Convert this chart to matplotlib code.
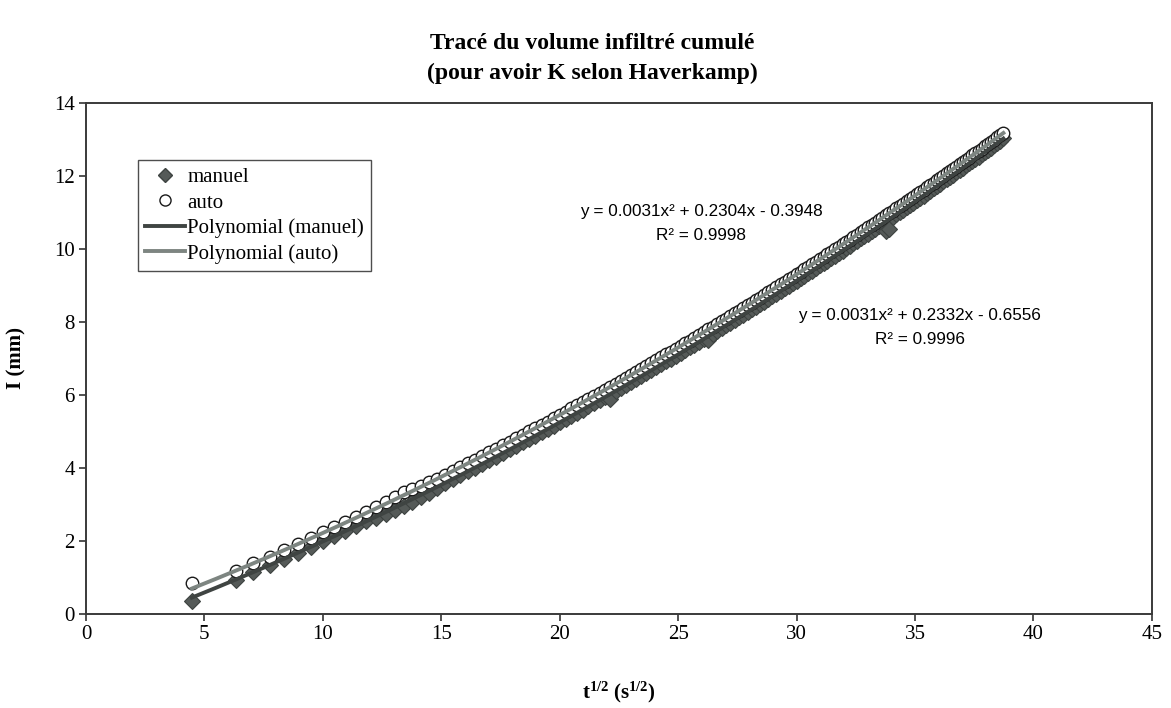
import matplotlib
matplotlib.use("Agg")
import matplotlib.pyplot as plt
from matplotlib.lines import Line2D
import numpy as np

# ---- data: x = t^(1/2) (s^(1/2)), I (mm) ----
x_vals = [4.47, 6.32, 7.07, 7.75, 8.37, 8.94, 9.49, 10.00, 10.49, 10.95,
          11.40, 11.83, 12.25, 12.65, 13.04, 13.42, 13.78, 14.14, 14.49, 14.83,
          15.17, 15.49, 15.81, 16.12, 16.43, 16.73, 17.03, 17.32, 17.61, 17.89,
          18.17, 18.44, 18.71, 18.97, 19.24, 19.49, 19.75, 20.00, 20.25, 20.49,
          20.74, 20.98, 21.21, 21.45, 21.68, 21.91, 22.14, 22.36, 22.58, 22.80,
          23.02, 23.24, 23.45, 23.66, 23.87, 24.08, 24.29, 24.49, 24.70, 24.90,
          25.10, 25.30, 25.50, 25.69, 25.88, 26.08, 26.27, 26.46, 26.65, 26.83,
          27.02, 27.20, 27.39, 27.57, 27.75, 27.93, 28.11, 28.28, 28.46, 28.64,
          28.81, 28.98, 29.15, 29.33, 29.50, 29.66, 29.83, 30.00, 30.17, 30.33,
          30.50, 30.66, 30.82, 30.98, 31.14, 31.30, 31.46, 31.62, 31.78, 31.94,
          32.09, 32.25, 32.40, 32.56, 32.71, 32.86, 33.02, 33.17, 33.32, 33.47,
          33.62, 33.76, 33.91, 34.06, 34.21, 34.35, 34.50, 34.64, 34.79, 34.93,
          35.07, 35.21, 35.36, 35.50, 35.64, 35.78, 35.92, 36.06, 36.19, 36.33,
          36.47, 36.61, 36.74, 36.88, 37.01, 37.15, 37.28, 37.42, 37.55, 37.68,
          37.82, 37.95, 38.08, 38.21, 38.34, 38.47, 38.60, 38.73]

auto_vals = [0.86, 1.17, 1.40, 1.57, 1.76, 1.93, 2.09, 2.24, 2.38, 2.52,
             2.66, 2.79, 2.93, 3.08, 3.20, 3.33, 3.42, 3.52, 3.61, 3.71,
             3.82, 3.93, 4.03, 4.13, 4.23, 4.33, 4.43, 4.53, 4.62, 4.72,
             4.81, 4.91, 5.00, 5.09, 5.18, 5.27, 5.36, 5.45, 5.54, 5.63,
             5.72, 5.80, 5.89, 5.97, 6.06, 6.14, 6.22, 6.31, 6.39, 6.47,
             6.55, 6.63, 6.71, 6.79, 6.87, 6.95, 7.03, 7.11, 7.19, 7.26,
             7.34, 7.42, 7.49, 7.57, 7.65, 7.72, 7.80, 7.87, 7.95, 8.02,
             8.09, 8.17, 8.24, 8.31, 8.39, 8.46, 8.53, 8.60, 8.67, 8.75,
             8.82, 8.89, 8.96, 9.03, 9.10, 9.17, 9.24, 9.31, 9.38, 9.45,
             9.51, 9.58, 9.65, 9.72, 9.79, 9.86, 9.92, 9.99, 10.06, 10.13,
             10.19, 10.26, 10.33, 10.39, 10.46, 10.53, 10.59, 10.66, 10.72, 10.79,
             10.85, 10.92, 10.98, 11.05, 11.11, 11.18, 11.24, 11.31, 11.37, 11.43,
             11.50, 11.56, 11.63, 11.69, 11.75, 11.82, 11.88, 11.94, 12.01, 12.07,
             12.13, 12.19, 12.26, 12.32, 12.38, 12.44, 12.50, 12.57, 12.63, 12.69,
             12.75, 12.81, 12.87, 12.94, 13.00, 13.06, 13.12, 13.18]

manuel_vals = [0.36, 0.93, 1.15, 1.34, 1.51, 1.68, 1.84, 1.99, 2.13, 2.27,
               2.41, 2.54, 2.62, 2.74, 2.86, 2.97, 3.08, 3.20, 3.32, 3.45,
               3.59, 3.70, 3.81, 3.91, 4.01, 4.11, 4.22, 4.31, 4.41, 4.51,
               4.60, 4.70, 4.79, 4.89, 4.98, 5.07, 5.16, 5.25, 5.34, 5.43,
               5.51, 5.60, 5.69, 5.77, 5.86, 5.94, 5.90, 6.11, 6.19, 6.27,
               6.36, 6.44, 6.52, 6.60, 6.68, 6.76, 6.84, 6.92, 6.99, 7.07,
               7.15, 7.23, 7.31, 7.38, 7.46, 7.53, 7.52, 7.68, 7.76, 7.83,
               7.91, 7.98, 8.06, 8.13, 8.20, 8.28, 8.35, 8.42, 8.49, 8.56,
               8.64, 8.71, 8.78, 8.85, 8.92, 8.99, 9.06, 9.13, 9.20, 9.27,
               9.34, 9.41, 9.48, 9.55, 9.62, 9.68, 9.75, 9.82, 9.89, 9.95,
               10.02, 10.09, 10.16, 10.22, 10.29, 10.36, 10.42, 10.49, 10.55, 10.62,
               10.69, 10.48, 10.55, 10.88, 10.95, 11.01, 11.08, 11.14, 11.21, 11.27,
               11.34, 11.40, 11.46, 11.53, 11.59, 11.66, 11.72, 11.78, 11.85, 11.91,
               11.97, 12.04, 12.10, 12.16, 12.22, 12.29, 12.35, 12.41, 12.47, 12.53,
               12.60, 12.66, 12.72, 12.78, 12.84, 12.90, 12.97, 13.03]

# trendline coefficients (as printed on chart)
coef_auto = [0.0031, 0.2304, -0.3948]
coef_manuel = [0.0031, 0.2332, -0.6556]
eq_auto = ["y = 0.0031x\u00b2 + 0.2304x - 0.3948", "R\u00b2 = 0.9998"]
eq_manuel = ["y = 0.0031x\u00b2 + 0.2332x - 0.6556", "R\u00b2 = 0.9996"]

x_ticks = [0, 5, 10, 15, 20, 25, 30, 35, 40, 45]
y_ticks = [0, 2, 4, 6, 8, 10, 12, 14]

plt.rcParams['mathtext.fontset'] = 'custom'
plt.rcParams['mathtext.rm'] = 'Liberation Serif'
plt.rcParams['mathtext.bf'] = 'Liberation Serif:bold'
plt.rcParams['mathtext.it'] = 'Liberation Serif:italic'

serif = 'Liberation Serif'
sans = 'Liberation Sans'

fig = plt.figure(figsize=(11.71, 7.08), dpi=100)
ax = fig.add_axes([0.0734, 0.1328, 0.9103, 0.7217])

x = np.array(x_vals)
ax.plot(x, manuel_vals, linestyle='none', marker='D', ms=8,
        mfc='#555a58', mec='#3e4341', mew=0.8, zorder=2)
ax.plot(x, auto_vals, linestyle='none', marker='o', ms=9,
        mfc='white', mec='#1a1a1a', mew=1.0, zorder=3)

xf = np.linspace(x.min(), x.max(), 300)
ax.plot(xf, np.polyval(coef_manuel, xf), color='#3f4442', lw=2.8, zorder=4)
ax.plot(xf, np.polyval(coef_auto, xf), color='#7d8581', lw=2.8, zorder=5)

ax.set_xlim(0, 45)
ax.set_ylim(0, 14)
ax.set_xticks(x_ticks)
ax.set_yticks(y_ticks)
ax.tick_params(direction='out', length=5, width=1.2, color='#333333',
               labelsize=15, pad=3)
for lab in ax.get_xticklabels() + ax.get_yticklabels():
    lab.set_fontfamily(serif)
for s in ax.spines.values():
    s.set_linewidth(1.4)
    s.set_color('#3a3a3a')

ax.set_xlabel(r'$\mathbf{t^{1/2}\ (s^{1/2})}$', fontsize=15, labelpad=26)
ax.set_ylabel('I (mm)', fontsize=15, fontweight='bold', family=serif, labelpad=20)

fig.text(0.506, 0.938, 'Tracé du volume infiltré cumulé', ha='center', va='center',
         fontsize=17, fontweight='bold', family=serif)
fig.text(0.506, 0.897, '(pour avoir K selon Haverkamp)', ha='center', va='center',
         fontsize=17, fontweight='bold', family=serif)

ax.text(25.96, 11.04, eq_auto[0], ha='center', va='center', fontsize=12.3, family=sans)
ax.text(25.96, 10.36, eq_auto[1], ha='center', va='center', fontsize=12.3, family=sans)
ax.text(35.2, 8.19, eq_manuel[0], ha='center', va='center', fontsize=12.3, family=sans)
ax.text(35.2, 7.53, eq_manuel[1], ha='center', va='center', fontsize=12.3, family=sans)

handles = [
    Line2D([], [], linestyle='none', marker='D', ms=7, mfc='#555a58', mec='#3e4341'),
    Line2D([], [], linestyle='none', marker='o', ms=8, mfc='white', mec='#1a1a1a'),
    Line2D([], [], color='#3f4442', lw=2.8),
    Line2D([], [], color='#7d8581', lw=2.8),
]
labels = ['manuel', 'auto', 'Polynomial (manuel)', 'Polynomial (auto)']
leg = ax.legend(handles, labels, loc='upper left', bbox_to_anchor=(0.049, 0.888),
                prop={'family': serif, 'size': 15}, frameon=True, fancybox=False,
                edgecolor='#222222', handlelength=1.9, handletextpad=0.1,
                borderpad=0.35, labelspacing=0.28, borderaxespad=0)
leg.get_frame().set_linewidth(1.0)

fig.savefig('out.png', dpi=100)
